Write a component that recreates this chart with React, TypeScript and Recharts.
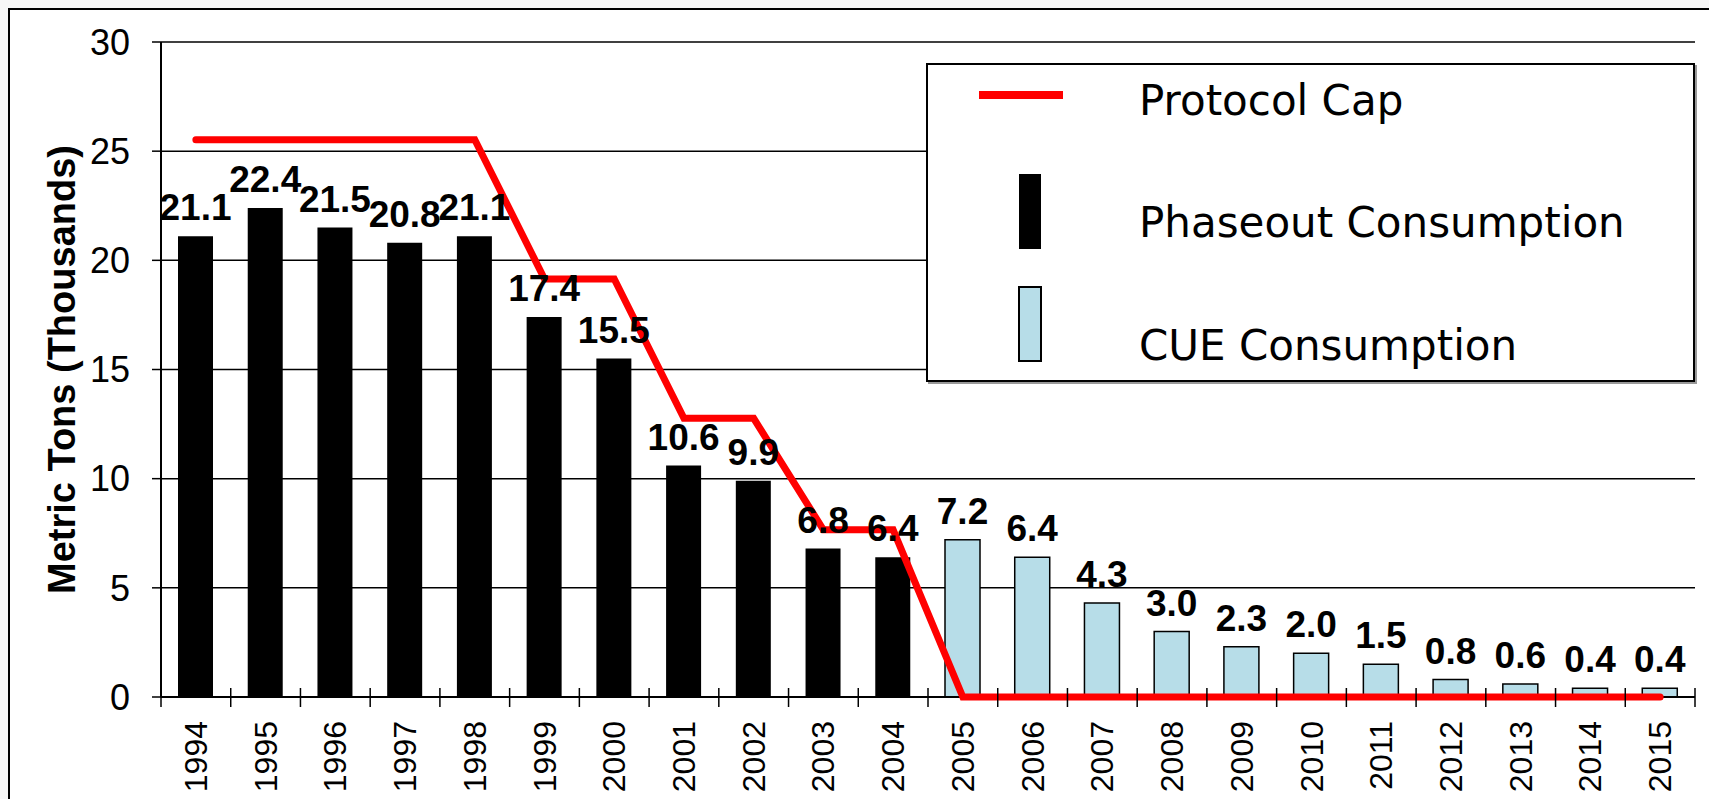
import React from "react";
import {
  ComposedChart,
  Bar,
  Line,
  XAxis,
  YAxis,
  CartesianGrid,
  Legend,
  LabelList,
} from "recharts";

const years = [
  "1994", "1995", "1996", "1997", "1998", "1999", "2000", "2001", "2002", "2003", "2004",
  "2005", "2006", "2007", "2008", "2009", "2010", "2011", "2012", "2013", "2014", "2015",
];

// thousands of metric tons
const phaseout = [21.1, 22.4, 21.5, 20.8, 21.1, 17.4, 15.5, 10.6, 9.9, 6.8, 6.4,
  null, null, null, null, null, null, null, null, null, null, null];
const cue = [null, null, null, null, null, null, null, null, null, null, null,
  7.2, 6.4, 4.3, 3.0, 2.3, 2.0, 1.5, 0.8, 0.6, 0.4, 0.4];
const protocolCap = [25.528, 25.528, 25.528, 25.528, 25.528, 19.146, 19.146, 12.764, 12.764,
  7.658, 7.658, 0, 0, 0, 0, 0, 0, 0, 0, 0, 0, 0];

const yTicks = [0, 5, 10, 15, 20, 25, 30];

const data = years.map((year, i) => ({
  year,
  phaseout: phaseout[i],
  cue: cue[i],
  cap: protocolCap[i],
  label: phaseout[i] ?? cue[i],
}));

const W = 1700;
const H = 789;
const M = { top: 32, right: 15, left: 0, bottom: 0 };
const Y_W = 151;
const STEP = (W - M.left - M.right - Y_W) / years.length;
const ARIAL = "'Liberation Sans', Arial, sans-serif";
const CUE_BLUE = "#b7dde8";

function YearTick(props: any) {
  const { x, y, payload, index } = props;
  const half = payload && payload.offset ? payload.offset : STEP / 2;
  const ty = y + 24;
  return (
    <g>
      <line x1={x - half} x2={x - half} y1={y - 9} y2={y + 10} stroke="#000" strokeWidth={1.5} />
      {index === years.length - 1 && (
        <line x1={x + half} x2={x + half} y1={y - 9} y2={y + 10} stroke="#000" strokeWidth={1.5} />
      )}
      <text
        x={x}
        y={ty}
        transform={`rotate(-90 ${x} ${ty})`}
        textAnchor="end"
        dominantBaseline="central"
        fontSize={32}
        fontFamily={ARIAL}
        fill="#000"
      >
        {payload.value}
      </text>
    </g>
  );
}

function YTitle(props: any) {
  const vb = props.viewBox || { x: 0, y: M.top, width: Y_W, height: 655 };
  const cx = vb.x + 52;
  const cy = vb.y + vb.height / 2;
  return (
    <text
      x={cx}
      y={cy}
      transform={`rotate(-90 ${cx} ${cy})`}
      textAnchor="middle"
      dominantBaseline="central"
      fontSize={38}
      fontWeight="bold"
      fontFamily={ARIAL}
      fill="#000"
    >
      Metric Tons (Thousands)
    </text>
  );
}

function LegendBox() {
  const font = "'DejaVu Sans', Verdana, sans-serif";
  return (
    <div style={{ width: 769, height: 319, boxShadow: "2px 2px 0 #999" }}>
      <svg width={769} height={319} style={{ display: "block" }}>
        <rect x={1} y={1} width={767} height={317} fill="#fff" stroke="#000" strokeWidth={2} />
        <line x1={53} x2={137} y1={32} y2={32} stroke="#ff0000" strokeWidth={8} />
        <rect x={93} y={111} width={22} height={75} fill="#000" />
        <rect x={93} y={224} width={22} height={74} fill={CUE_BLUE} stroke="#000" strokeWidth={2} />
        <text x={213} y={52} fontSize={42} fontFamily={font} fill="#000">Protocol Cap</text>
        <text x={213} y={174} fontSize={42} fontFamily={font} fill="#000">Phaseout Consumption</text>
        <text x={213} y={297} fontSize={42} fontFamily={font} fill="#000">CUE Consumption</text>
      </svg>
    </div>
  );
}

const fmt = (v: any) => (v == null ? "" : Number(v).toFixed(1));

export default function App() {
  return (
    <div style={{ position: "fixed", inset: 0, background: "#f7f7f7", overflow: "hidden" }}>
      <div
        style={{
          position: "absolute",
          left: 8,
          top: 8,
          width: 1720,
          height: 820,
          border: "2px solid #000",
          background: "#fff",
        }}
      >
        <ComposedChart width={W} height={H} data={data} margin={M} barCategoryGap={0}>
          <CartesianGrid vertical={false} stroke="#000" strokeWidth={1.5} />
          <XAxis
            dataKey="year"
            height={102}
            interval={0}
            tickSize={0}
            tickMargin={0}
            tickLine={false}
            axisLine={{ stroke: "#000", strokeWidth: 2 }}
            tick={<YearTick />}
          />
          <XAxis dataKey="year" xAxisId="lbl" hide />
          <YAxis
            width={Y_W}
            domain={[0, 30]}
            ticks={yTicks}
            interval={0}
            tickSize={9}
            tickMargin={22}
            tickLine={{ stroke: "#000", strokeWidth: 1.5 }}
            axisLine={{ stroke: "#000", strokeWidth: 2 }}
            tick={{ fontSize: 36, fill: "#000", fontFamily: ARIAL }}
            label={{ content: (p: any) => <YTitle {...p} /> }}
          />
          <YAxis
            yAxisId="r"
            orientation="right"
            width={0}
            domain={[0, 30]}
            tick={false}
            tickLine={false}
            axisLine={{ stroke: "#000", strokeWidth: 2 }}
          />
          <Legend
            layout="vertical"
            align="center"
            verticalAlign="middle"
            wrapperStyle={{ left: 916, top: 53, width: 769, height: 319 }}
            content={() => <LegendBox />}
          />
          <Bar dataKey="phaseout" stackId="s" barSize={35} fill="#000" isAnimationActive={false} />
          <Bar
            dataKey="cue"
            stackId="s"
            barSize={35}
            fill={CUE_BLUE}
            stroke="#000"
            strokeWidth={1.5}
            isAnimationActive={false}
          />
          <Line
            type="linear"
            dataKey="cap"
            stroke="#ff0000"
            strokeWidth={7}
            strokeLinecap="round"
            dot={false}
            activeDot={false}
            isAnimationActive={false}
            zIndex={600}
          />
          <Bar dataKey="label" xAxisId="lbl" barSize={35} fill="none" isAnimationActive={false}>
            <LabelList
              dataKey="label"
              position="top"
              offset={16}
              formatter={fmt}
              fontSize={37}
              fontWeight="bold"
              fontFamily={ARIAL}
              fill="#000"
            />
          </Bar>
        </ComposedChart>
      </div>
    </div>
  );
}
